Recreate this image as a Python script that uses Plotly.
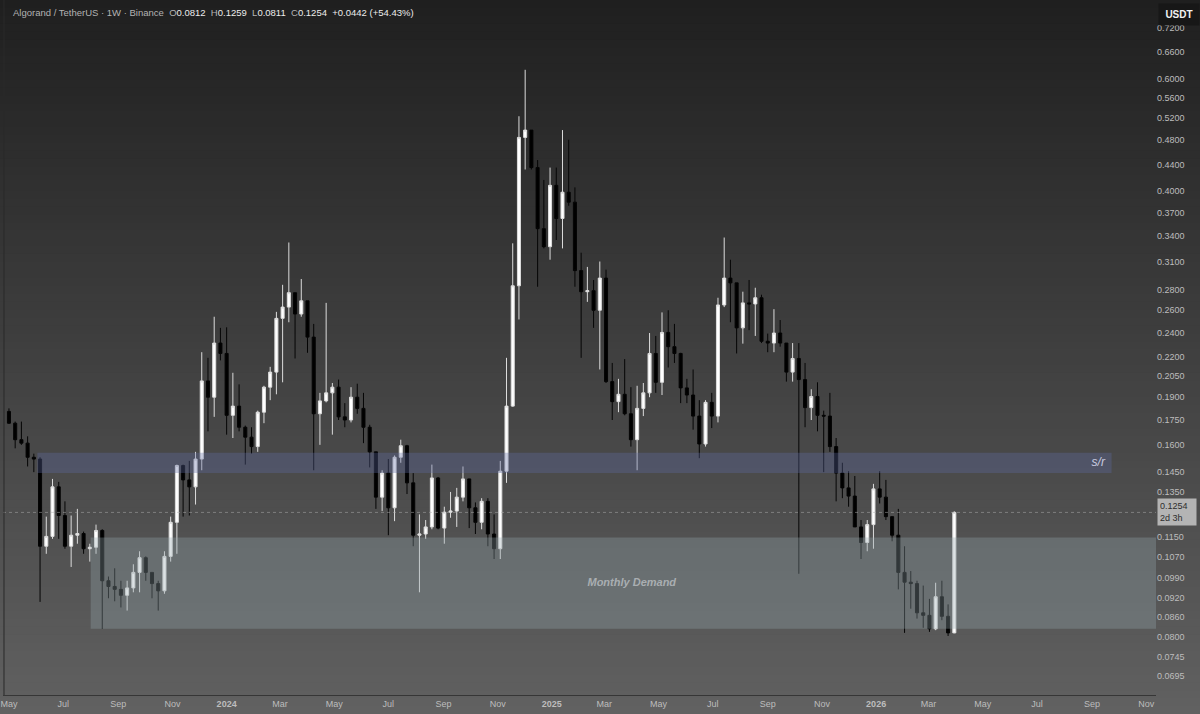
import numpy as np
import pandas as pd
import plotly.graph_objects as go

# ---------------- data (ALGO/USDT weekly) ----------------
dates = pd.date_range("2023-05-01", periods=153, freq="7D")

opens = [0.1805, 0.173, 0.163, 0.161, 0.153, 0.152, 0.111, 0.115, 0.1375, 0.124,
         0.111, 0.1155, 0.1162, 0.1100, 0.1106, 0.1175, 0.098, 0.096, 0.095, 0.093,
         0.0955, 0.101, 0.1065, 0.101, 0.097, 0.0945, 0.107, 0.121, 0.1485, 0.141,
         0.1375, 0.152, 0.2015, 0.190, 0.231, 0.2225, 0.178, 0.184, 0.1705, 0.1645,
         0.159, 0.180, 0.197, 0.208, 0.2525, 0.263, 0.277, 0.2565, 0.269, 0.236,
         0.179, 0.1875, 0.193, 0.197, 0.177, 0.175, 0.190, 0.1825, 0.1705, 0.156,
         0.1325, 0.1445, 0.1275, 0.153, 0.1595, 0.1395, 0.1155, 0.116, 0.119, 0.142,
         0.1185, 0.1255, 0.126, 0.1325, 0.1415, 0.1275, 0.121, 0.1305, 0.116, 0.110,
         0.1455, 0.184, 0.284, 0.485, 0.498, 0.435, 0.349, 0.327, 0.408, 0.362,
         0.398, 0.384, 0.300, 0.278, 0.279, 0.260, 0.292, 0.201, 0.187, 0.192,
         0.179, 0.163, 0.1825, 0.193, 0.2225, 0.2005, 0.240, 0.228, 0.2225, 0.1965,
         0.1915, 0.1775, 0.1605, 0.1865, 0.1775, 0.265, 0.292, 0.287, 0.244, 0.267,
         0.266, 0.272, 0.2325, 0.231, 0.2395, 0.231, 0.208, 0.2185, 0.2025, 0.183,
         0.1905, 0.178, 0.1775, 0.159, 0.1445, 0.137, 0.133, 0.119, 0.1125, 0.120,
         0.1365, 0.1325, 0.1235, 0.1155, 0.101, 0.0975, 0.097, 0.0873, 0.0865, 0.0824,
         0.0925, 0.0862, 0.0812]

highs = [0.1825, 0.174, 0.174, 0.165, 0.155, 0.153, 0.1235, 0.1415, 0.140, 0.1305,
         0.124, 0.127, 0.117, 0.112, 0.120, 0.118, 0.0995, 0.1025, 0.098, 0.098,
         0.104, 0.109, 0.107, 0.101, 0.098, 0.109, 0.1235, 0.149, 0.149, 0.151,
         0.156, 0.2235, 0.219, 0.254, 0.244, 0.2445, 0.2075, 0.199, 0.1715, 0.1705,
         0.181, 0.198, 0.212, 0.2585, 0.285, 0.332, 0.277, 0.291, 0.269, 0.2475,
         0.193, 0.267, 0.200, 0.2025, 0.186, 0.197, 0.1995, 0.193, 0.172, 0.156,
         0.146, 0.152, 0.154, 0.163, 0.160, 0.1445, 0.1245, 0.122, 0.149, 0.1425,
         0.128, 0.135, 0.137, 0.148, 0.1415, 0.130, 0.132, 0.132, 0.1245, 0.151,
         0.219, 0.331, 0.5235, 0.619, 0.498, 0.447, 0.416, 0.435, 0.435, 0.498,
         0.481, 0.405, 0.320, 0.304, 0.290, 0.310, 0.301, 0.215, 0.203, 0.218,
         0.197, 0.198, 0.200, 0.2395, 0.237, 0.258, 0.260, 0.2475, 0.223, 0.203,
         0.210, 0.188, 0.188, 0.193, 0.272, 0.338, 0.312, 0.287, 0.278, 0.290,
         0.282, 0.275, 0.239, 0.261, 0.251, 0.231, 0.231, 0.231, 0.215, 0.1955,
         0.2005, 0.181, 0.193, 0.164, 0.150, 0.1455, 0.143, 0.122, 0.122, 0.139,
         0.1455, 0.141, 0.1235, 0.127, 0.111, 0.1015, 0.098, 0.0963, 0.0918, 0.0973,
         0.098, 0.090, 0.1259]

lows = [0.1725, 0.158, 0.160, 0.148, 0.145, 0.0908, 0.108, 0.114, 0.114, 0.110,
        0.103, 0.112, 0.108, 0.105, 0.108, 0.0824, 0.092, 0.091, 0.089, 0.088,
        0.094, 0.094, 0.098, 0.092, 0.088, 0.0935, 0.105, 0.108, 0.1235, 0.124,
        0.129, 0.146, 0.168, 0.177, 0.217, 0.166, 0.164, 0.168, 0.149, 0.155,
        0.156, 0.173, 0.188, 0.192, 0.2005, 0.249, 0.2185, 0.254, 0.223, 0.146,
        0.160, 0.1865, 0.166, 0.175, 0.1705, 0.1735, 0.179, 0.161, 0.1475, 0.127,
        0.126, 0.1155, 0.1215, 0.150, 0.134, 0.111, 0.094, 0.114, 0.118, 0.118,
        0.112, 0.123, 0.119, 0.1305, 0.1185, 0.116, 0.118, 0.111, 0.106, 0.106,
        0.1395, 0.1835, 0.2515, 0.432, 0.432, 0.283, 0.325, 0.312, 0.335, 0.325,
        0.379, 0.283, 0.219, 0.268, 0.244, 0.210, 0.200, 0.175, 0.180, 0.178,
        0.159, 0.146, 0.1775, 0.190, 0.193, 0.1915, 0.2115, 0.215, 0.186, 0.186,
        0.169, 0.1525, 0.159, 0.170, 0.1735, 0.263, 0.249, 0.2225, 0.2305, 0.242,
        0.237, 0.231, 0.2235, 0.2235, 0.228, 0.201, 0.201, 0.1005, 0.1705, 0.175,
        0.168, 0.145, 0.156, 0.1305, 0.132, 0.128, 0.119, 0.106, 0.109, 0.110,
        0.1295, 0.122, 0.113, 0.095, 0.0812, 0.0886, 0.0855, 0.0827, 0.0815, 0.082,
        0.085, 0.0803, 0.0811]

closes = [0.173, 0.163, 0.161, 0.153, 0.152, 0.111, 0.115, 0.1375, 0.124, 0.111,
          0.1155, 0.1162, 0.1100, 0.1106, 0.1175, 0.098, 0.096, 0.095, 0.093, 0.0955,
          0.101, 0.1065, 0.101, 0.097, 0.0945, 0.107, 0.121, 0.1485, 0.141, 0.1375,
          0.152, 0.2015, 0.190, 0.231, 0.2225, 0.178, 0.184, 0.1705, 0.1645, 0.159,
          0.180, 0.197, 0.208, 0.2525, 0.263, 0.277, 0.2565, 0.269, 0.236, 0.179,
          0.1875, 0.193, 0.197, 0.177, 0.175, 0.190, 0.1825, 0.1705, 0.156, 0.1325,
          0.1445, 0.1275, 0.153, 0.1595, 0.1395, 0.1155, 0.116, 0.119, 0.142, 0.1185,
          0.1255, 0.126, 0.1325, 0.1415, 0.1275, 0.121, 0.1305, 0.116, 0.110, 0.1455,
          0.184, 0.284, 0.485, 0.498, 0.435, 0.349, 0.327, 0.408, 0.362, 0.398,
          0.384, 0.300, 0.278, 0.279, 0.260, 0.292, 0.201, 0.187, 0.192, 0.179,
          0.163, 0.1825, 0.193, 0.2225, 0.2005, 0.240, 0.228, 0.2225, 0.1965, 0.1915,
          0.1775, 0.1605, 0.1865, 0.1775, 0.265, 0.292, 0.287, 0.244, 0.267, 0.266,
          0.272, 0.2325, 0.231, 0.2395, 0.231, 0.208, 0.2185, 0.2025, 0.183, 0.1905,
          0.178, 0.1775, 0.159, 0.1445, 0.137, 0.133, 0.119, 0.1125, 0.120, 0.1365,
          0.1325, 0.1235, 0.1155, 0.101, 0.0975, 0.097, 0.0873, 0.0865, 0.0824, 0.0925,
          0.0862, 0.0812, 0.1254]

# zones
sr_zone = {"start": "2023-06-02", "end": "2026-09-23", "top": 0.1555, "bottom": 0.1445}
demand_zone = {"start": "2023-08-01", "end": "2026-11-12", "top": 0.1145, "bottom": 0.0824}
last_price = 0.1254

y_ticks = [0.0695, 0.0745, 0.0800, 0.0860, 0.0920, 0.0990, 0.1070, 0.1150, 0.1350,
           0.1450, 0.1600, 0.1750, 0.1900, 0.2050, 0.2200, 0.2400, 0.2600, 0.2800,
           0.3100, 0.3400, 0.3700, 0.4000, 0.4400, 0.4800, 0.5200, 0.5600, 0.6000,
           0.6600, 0.7200]
x_tick_dates = ["2023-05-01", "2023-07-01", "2023-09-01", "2023-11-01", "2024-01-01",
                "2024-03-01", "2024-05-01", "2024-07-01", "2024-09-01", "2024-11-01",
                "2025-01-01", "2025-03-01", "2025-05-01", "2025-07-01", "2025-09-01",
                "2025-11-01", "2026-01-01", "2026-03-01", "2026-05-01", "2026-07-01",
                "2026-09-01", "2026-11-01"]
x_tick_text = ["May", "Jul", "Sep", "Nov", "<b>2024</b>", "Mar", "May", "Jul", "Sep", "Nov",
               "<b>2025</b>", "Mar", "May", "Jul", "Sep", "Nov", "<b>2026</b>", "Mar",
               "May", "Jul", "Sep", "Nov"]

X_RANGE = ["2023-04-24 07:00", "2026-11-12"]
Y_RANGE = [np.log10(0.0649), np.log10(0.7962)]
FONT = "Liberation Sans, Arial, sans-serif"

fig = go.Figure()

# background gradient (paper-referenced bands)
W, H, ML, MR, MT, MB = 1200, 714, 0, 44, 0, 19
plot_h = H - MT - MB
plot_w = W - ML - MR
n_bands = 90
shapes = []
for i in range(n_bands):
    py0 = i * H / n_bands
    py1 = (i + 1) * H / n_bands + 1
    t = (py0 + py1) / 2 / H
    c = int(round(31 + (97 - 31) * t))
    shapes.append(dict(type="rect", xref="paper", yref="paper", layer="below",
                       x0=-0.02, x1=1.06,
                       y0=1 - (py1 - MT) / plot_h, y1=1 - (py0 - MT) / plot_h,
                       line=dict(width=0), fillcolor=f"rgb({c},{c},{c})"))
# thin dark left border
shapes.append(dict(type="line", xref="paper", yref="paper", layer="above",
                   x0=1 / plot_w, x1=1 / plot_w, y0=0, y1=1,
                   line=dict(color="#2a2a2a", width=1)))


def zone(z, color):
    fig.add_trace(go.Scatter(
        x=[z["start"], z["end"], z["end"], z["start"], z["start"]],
        y=[z["top"], z["top"], z["bottom"], z["bottom"], z["top"]],
        mode="lines", fill="toself", fillcolor=color, line=dict(width=0),
        hoverinfo="skip", showlegend=False))


zone(demand_zone, "rgba(150,168,174,0.33)")
zone(sr_zone, "rgba(95,105,165,0.33)")

# last price dotted line
fig.add_trace(go.Scatter(x=X_RANGE, y=[last_price, last_price], mode="lines",
                         line=dict(color="rgba(175,175,175,0.5)", width=1, dash="dot"),
                         hoverinfo="skip", showlegend=False))

# candles
fig.add_trace(go.Candlestick(
    x=dates, open=opens, high=highs, low=lows, close=closes,
    increasing=dict(line=dict(color="#dcdcdc", width=1), fillcolor="#ffffff"),
    decreasing=dict(line=dict(color="#050505", width=1), fillcolor="#000000"),
    whiskerwidth=0, showlegend=False, hoverinfo="skip"))

# zone labels
fig.add_trace(go.Scatter(x=["2025-04-01"], y=[0.0972], mode="text", text=["Monthly Demand"],
                         textfont=dict(family=FONT, size=11, color="#a9aeb1",
                                       weight="bold", style="italic"),
                         hoverinfo="skip", showlegend=False))
fig.add_trace(go.Scatter(x=["2026-09-08"], y=[0.1500], mode="text", text=["s/r"],
                         textfont=dict(family=FONT, size=12, color="#c9cce0", style="italic"),
                         hoverinfo="skip", showlegend=False))

g = "#b3b3b3"
v = "#ececec"
title = (f'<span style="color:{g}">Algorand / TetherUS · 1W · Binance</span>&nbsp;&nbsp;'
         f'<span style="color:{g}">O</span><span style="color:{v}">0.0812</span>&nbsp;&nbsp;'
         f'<span style="color:{g}">H</span><span style="color:{v}">0.1259</span>&nbsp;&nbsp;'
         f'<span style="color:{g}">L</span><span style="color:{v}">0.0811</span>&nbsp;&nbsp;'
         f'<span style="color:{g}">C</span><span style="color:{v}">0.1254</span>&nbsp;&nbsp;'
         f'<span style="color:{v}">+0.0442 (+54.43%)</span>')

annotations = [
    dict(xref="paper", yref="paper", x=8 / plot_w, y=1 - 13 / plot_h,
         xanchor="left", yanchor="middle", text=title, showarrow=False,
         font=dict(family=FONT, size=9.5, color=v)),
    dict(xref="paper", yref="paper", x=1 + 2 / plot_w, y=1 - 15 / plot_h,
         xanchor="left", yanchor="middle", text="<b>USDT</b>", showarrow=False,
         bgcolor="#171717", borderpad=5, width=30,
         font=dict(family=FONT, size=10, color="#f2f2f2")),
    dict(xref="paper", yref="y", x=1 + 1 / plot_w, y=np.log10(last_price),
         xanchor="left", yanchor="middle", text="0.1254<br>2d 3h", showarrow=False,
         align="left", bgcolor="#b4b4b4", borderpad=2, width=34,
         font=dict(family=FONT, size=9, color="#2e2e2e")),
]

fig.update_layout(
    width=W, height=H, margin=dict(l=ML, r=MR, t=MT, b=MB),
    paper_bgcolor="#3a3a3a", plot_bgcolor="rgba(0,0,0,0)",
    shapes=shapes, annotations=annotations, showlegend=False,
    font=dict(family=FONT),
    xaxis=dict(type="date", range=X_RANGE, rangeslider=dict(visible=False),
               showgrid=False, zeroline=False, showline=True, linecolor="#363636",
               linewidth=1, tickmode="array", tickvals=x_tick_dates, ticktext=x_tick_text,
               ticks="", ticklabeloverflow="allow",
               tickfont=dict(family=FONT, size=9, color="#bdbdbd")),
    yaxis=dict(type="log", range=Y_RANGE, side="right", showgrid=False, zeroline=False,
               showline=False, tickmode="array", tickvals=y_ticks,
               ticktext=[f"{t:.4f}" for t in y_ticks], ticks="",
               tickfont=dict(family=FONT, size=9, color="#bdbdbd")),
)

fig.write_html("out.html", config={"displayModeBar": False},
               post_script="document.body.style.margin='0';document.body.style.overflow='hidden';")
